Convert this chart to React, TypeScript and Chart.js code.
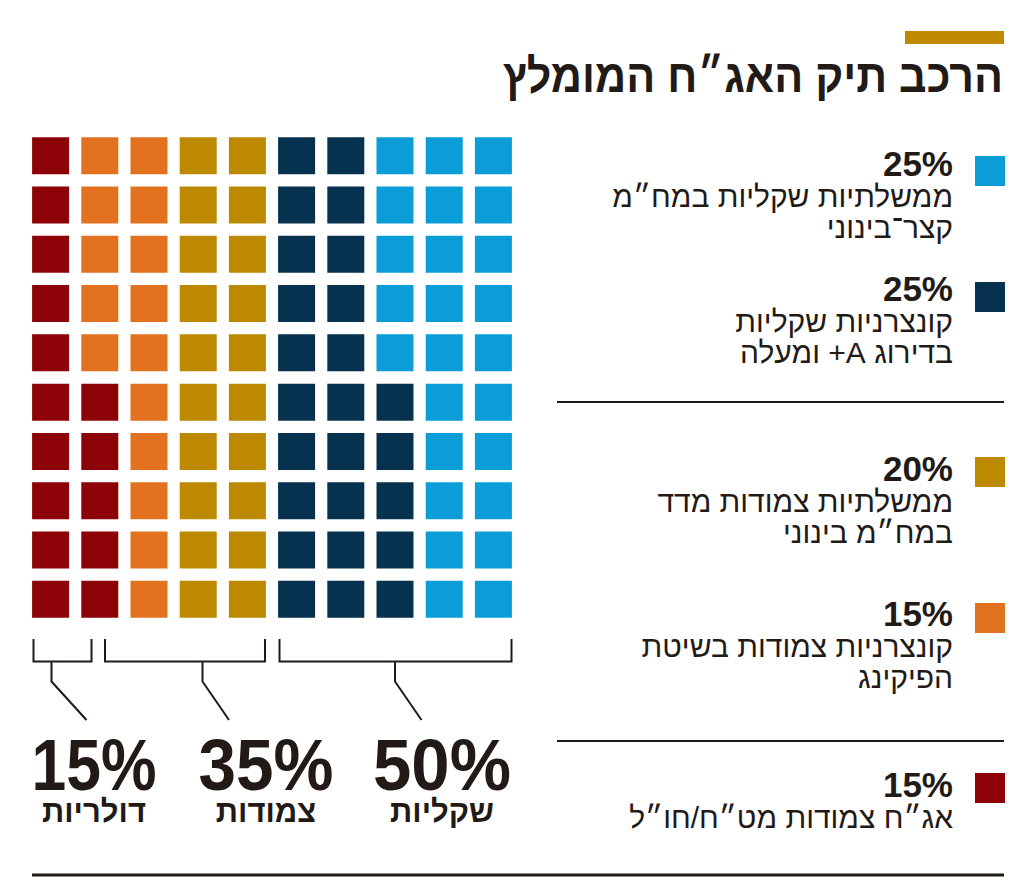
import React, { useEffect, useRef } from "react";
import { Chart, registerables } from "chart.js";

Chart.register(...registerables);

// ---- data ----
const title = "הרכב תיק האג״ח המומלץ";
// fill order (left column first, bottom to top)
const categories = [
  "אג״ח צמודות מט״ח/חו״ל",
  "קונצרניות צמודות בשיטת הפיקינג",
  "ממשלתיות צמודות מדד במח״מ בינוני",
  "קונצרניות שקליות בדירוג A+ ומעלה",
  "ממשלתיות שקליות במח״מ קצר־בינוני",
];
const values = [15, 15, 20, 25, 25];
const colors = ["#8C0207", "#E2721F", "#BC8900", "#06324F", "#0A9DD8"];
const legendLines = [
  ["אג״ח צמודות מט״ח/חו״ל"],
  ["קונצרניות צמודות בשיטת", "הפיקינג"],
  ["ממשלתיות צמודות מדד", "במח״מ בינוני"],
  ["קונצרניות שקליות", "בדירוג A+ ומעלה"],
  ["ממשלתיות שקליות במח״מ", "קצר־בינוני"],
];
const groupLabels = ["דולריות", "צמודות", "שקליות"];
const groupValues = [15, 35, 50];

// ---- layout ----
const GRID_ROWS = 10;
const GRID_COLS = 10;
const INK = "#221a17";
const legendSquareTop = [773, 603, 457, 282, 156]; // per category (fill order)
const legendPctBase = [797, 626, 481, 301, 176];
const groupCenters = [94, 266, 442];
const groupNumWidths = [125, 135, 138];
const brackets = [
  { l: 33.5, r: 91.5, stem: 51.5, end: 86.5 },
  { l: 105, r: 265, stem: 202.5, end: 229 },
  { l: 279.5, r: 511.5, stem: 395, end: 421.5 },
];
const rtl = (s: string) => "\u202B" + s + "\u202C";

function Waffle() {
  const ref = useRef<HTMLCanvasElement>(null);
  useEffect(() => {
    if (!ref.current) return;
    let idx = 0;
    const datasets = categories.map((name, i) => {
      const pts: { x: number; y: number }[] = [];
      for (let k = 0; k < values[i]; k++) {
        pts.push({ x: Math.floor(idx / GRID_ROWS) + 1, y: (idx % GRID_ROWS) + 1 });
        idx++;
      }
      return {
        label: name,
        data: pts,
        backgroundColor: colors[i],
        borderColor: colors[i],
        borderWidth: 0,
        pointStyle: "rect" as const,
        pointRadius: 37 / Math.SQRT2,
        pointHoverRadius: 37 / Math.SQRT2,
        clip: false as const,
      };
    });
    const chart = new Chart(ref.current, {
      type: "scatter",
      data: { datasets },
      options: {
        animation: false,
        responsive: false,
        events: [],
        layout: { padding: 0, autoPadding: false },
        plugins: { legend: { display: false }, tooltip: { enabled: false } },
        scales: {
          x: { type: "linear", min: 0.5, max: GRID_COLS + 0.5, display: false },
          y: { type: "linear", min: 0.5, max: GRID_ROWS + 0.5, display: false },
        },
      },
    });
    return () => chart.destroy();
  }, []);
  return (
    <canvas
      ref={ref}
      width={492}
      height={493}
      style={{ position: "absolute", left: 26, top: 131, width: 492, height: 493 }}
    />
  );
}

export default function App() {
  const heb = "'Liberation Sans', 'DejaVu Sans', sans-serif";
  return (
    <div style={{ position: "absolute", left: 0, top: 0, width: 1024, height: 884, background: "#fff", overflow: "hidden" }}>
      <svg width={1024} height={884} style={{ position: "absolute", left: 0, top: 0 }}>
        <rect x={905} y={31} width={99} height={13} fill="#BF8A00" />
        <text x={1003} y={92} direction="rtl" textAnchor="start" fontFamily={heb} fontWeight="bold" fontSize={47} textLength={500} lengthAdjust="spacingAndGlyphs" fill={INK}>
          {title}
        </text>
        {categories.map((c, i) => (
          <g key={c}>
            <rect x={975} y={legendSquareTop[i]} width={30} height={30} fill={colors[i]} />
            <text x={953} y={legendPctBase[i]} textAnchor="end" fontFamily={heb} fontWeight="bold" fontSize={35} fill={INK}>
              {values[i] + "%"}
            </text>
            {legendLines[i].map((ln, j) => (
              <text key={j} x={953} y={legendPctBase[i] + 31 * (j + 1)} direction="rtl" textAnchor="start" fontFamily={heb} fontSize={30} fill={INK}>
                {rtl(ln)}
              </text>
            ))}
          </g>
        ))}
        <line x1={557} x2={1004} y1={402} y2={402} stroke={INK} strokeWidth={2} />
        <line x1={557} x2={1004} y1={741} y2={741} stroke={INK} strokeWidth={2} />
        <line x1={32} x2={1004} y1={875} y2={875} stroke={INK} strokeWidth={3} />
        {brackets.map((b, i) => (
          <g key={i} fill="none" stroke={INK} strokeWidth={2}>
            <path d={`M${b.l} 639 V661.5 H${b.r} V639`} />
            <path d={`M${b.stem} 661.5 V681.5 L${b.end} 720`} />
          </g>
        ))}
        {groupLabels.map((g, i) => (
          <g key={g}>
            <text x={groupCenters[i]} y={790} textAnchor="middle" fontFamily={heb} fontWeight="bold" fontSize={73} textLength={groupNumWidths[i]} lengthAdjust="spacingAndGlyphs" fill={INK}>
              {groupValues[i] + "%"}
            </text>
            <text x={groupCenters[i]} y={822} direction="rtl" textAnchor="middle" fontFamily={heb} fontWeight="bold" fontSize={31} fill={INK}>
              {g}
            </text>
          </g>
        ))}
      </svg>
      <Waffle />
    </div>
  );
}
